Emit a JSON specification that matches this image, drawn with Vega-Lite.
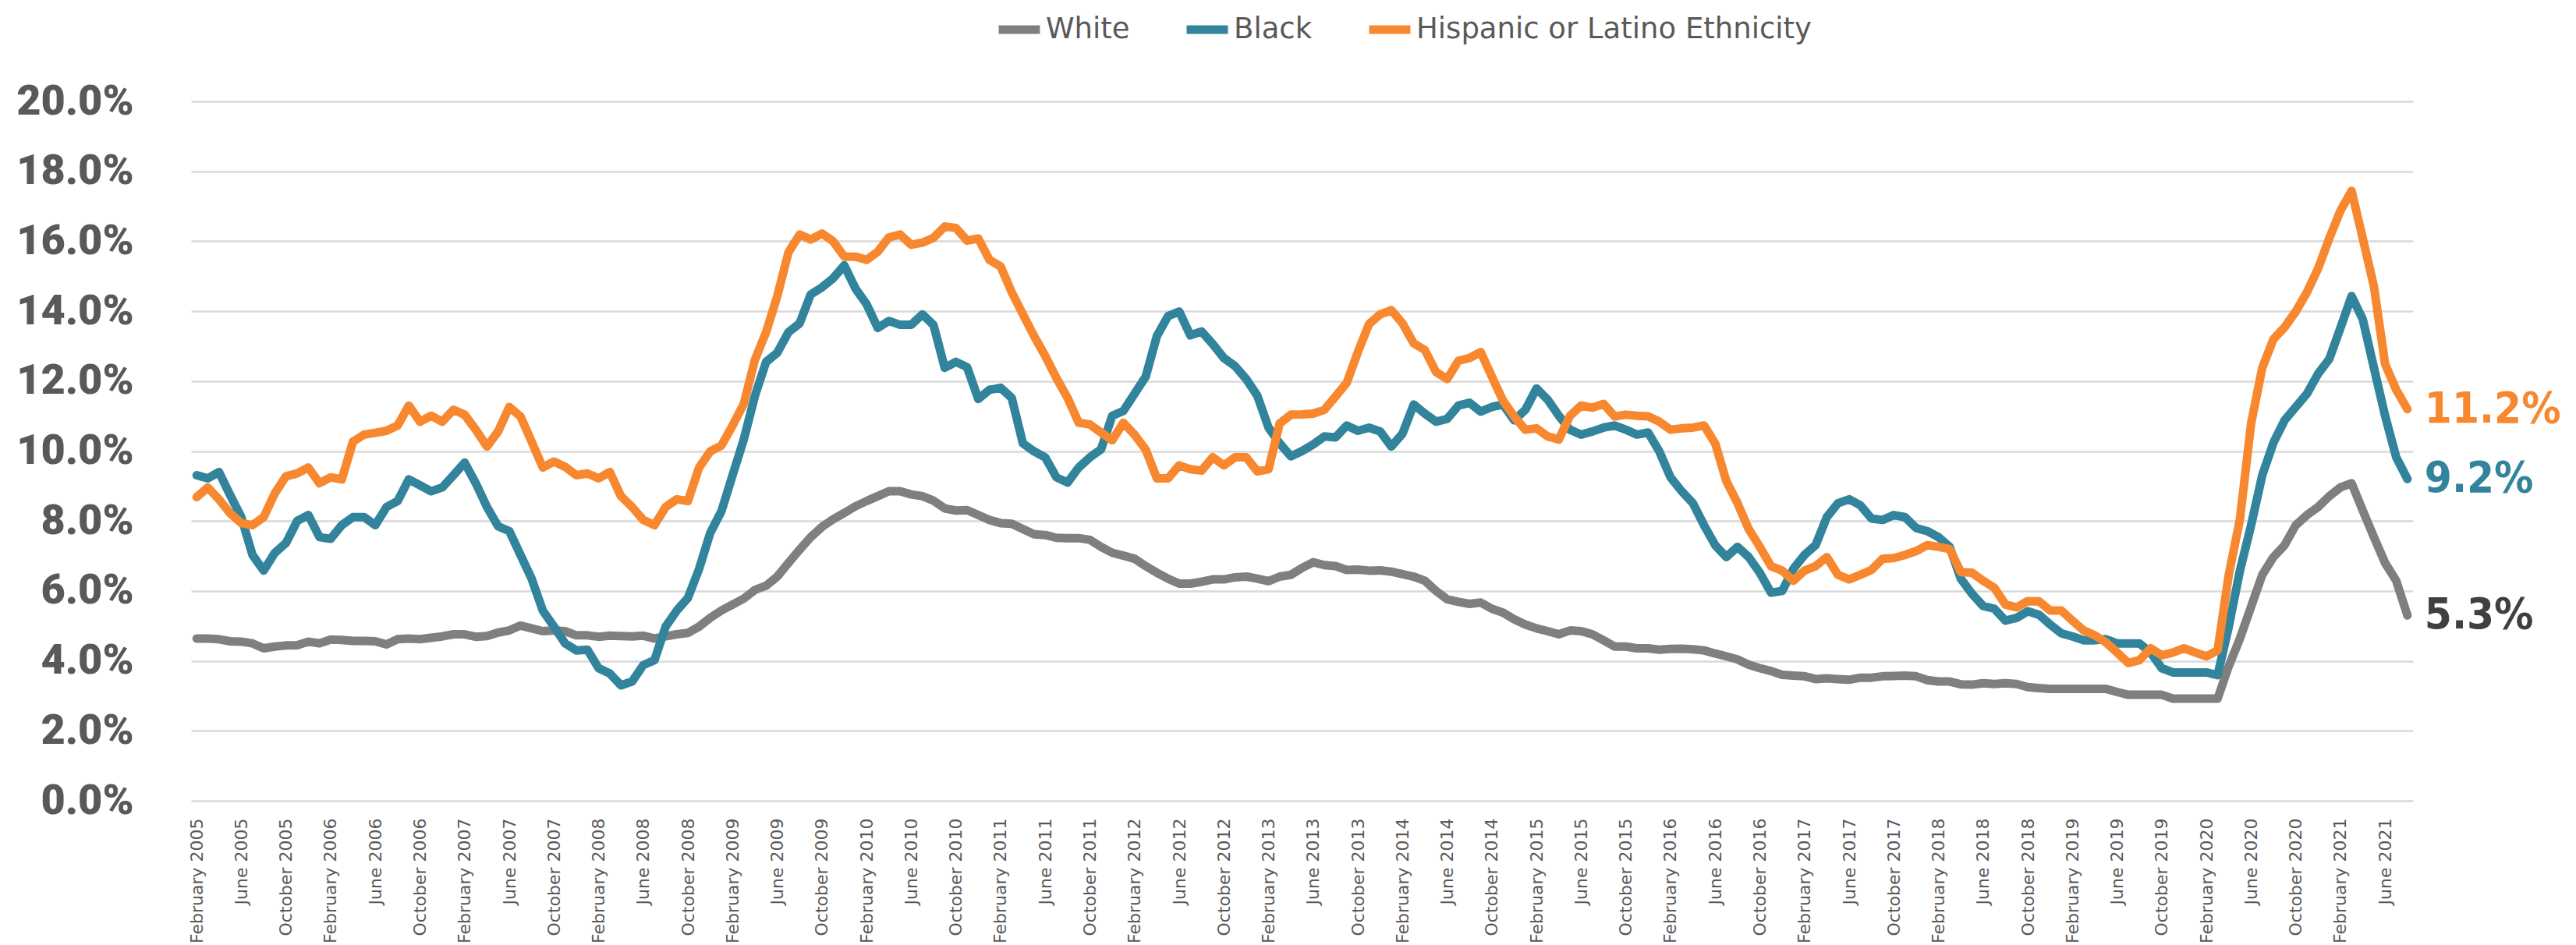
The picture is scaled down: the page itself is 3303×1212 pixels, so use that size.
{
"$schema": "https://vega.github.io/schema/vega-lite/v6.json",
"width": 2849, "height": 897,
"autosize": {"type": "none"},
"padding": {"left": 245, "top": 130, "right": 209, "bottom": 185},
"background": "white",
"config": {"view": {"stroke": null}},
"data": {"values": [
{"month":"February 2005","White":0.0464,"Black":0.0931,"Hispanic":0.0868},
{"month":"March 2005","White":0.0464,"Black":0.0922,"Hispanic":0.0896},
{"month":"April 2005","White":0.0462,"Black":0.0940,"Hispanic":0.0862},
{"month":"May 2005","White":0.0456,"Black":0.0874,"Hispanic":0.0822},
{"month":"June 2005","White":0.0455,"Black":0.0811,"Hispanic":0.0794},
{"month":"July 2005","White":0.0450,"Black":0.0703,"Hispanic":0.0788},
{"month":"August 2005","White":0.0436,"Black":0.0658,"Hispanic":0.0811},
{"month":"September 2005","White":0.0441,"Black":0.0709,"Hispanic":0.0879},
{"month":"October 2005","White":0.0444,"Black":0.0737,"Hispanic":0.0928},
{"month":"November 2005","White":0.0445,"Black":0.0800,"Hispanic":0.0936},
{"month":"December 2005","White":0.0455,"Black":0.0817,"Hispanic":0.0953},
{"month":"January 2006","White":0.0450,"Black":0.0754,"Hispanic":0.0908},
{"month":"February 2006","White":0.0461,"Black":0.0749,"Hispanic":0.0925},
{"month":"March 2006","White":0.0460,"Black":0.0788,"Hispanic":0.0919},
{"month":"April 2006","White":0.0457,"Black":0.0811,"Hispanic":0.1027},
{"month":"May 2006","White":0.0457,"Black":0.0811,"Hispanic":0.1047},
{"month":"June 2006","White":0.0456,"Black":0.0788,"Hispanic":0.1052},
{"month":"July 2006","White":0.0447,"Black":0.0840,"Hispanic":0.1058},
{"month":"August 2006","White":0.0462,"Black":0.0857,"Hispanic":0.1073},
{"month":"September 2006","White":0.0464,"Black":0.0919,"Hispanic":0.1130},
{"month":"October 2006","White":0.0462,"Black":0.0902,"Hispanic":0.1084},
{"month":"November 2006","White":0.0466,"Black":0.0885,"Hispanic":0.1101},
{"month":"December 2006","White":0.0470,"Black":0.0896,"Hispanic":0.1084},
{"month":"January 2007","White":0.0476,"Black":0.0931,"Hispanic":0.1118},
{"month":"February 2007","White":0.0476,"Black":0.0967,"Hispanic":0.1104},
{"month":"March 2007","White":0.0469,"Black":0.0908,"Hispanic":0.1061},
{"month":"April 2007","White":0.0471,"Black":0.0840,"Hispanic":0.1013},
{"month":"May 2007","White":0.0481,"Black":0.0785,"Hispanic":0.1056},
{"month":"June 2007","White":0.0487,"Black":0.0771,"Hispanic":0.1126},
{"month":"July 2007","White":0.0501,"Black":0.0703,"Hispanic":0.1099},
{"month":"August 2007","White":0.0493,"Black":0.0635,"Hispanic":0.1027},
{"month":"September 2007","White":0.0485,"Black":0.0544,"Hispanic":0.0953},
{"month":"October 2007","White":0.0487,"Black":0.0498,"Hispanic":0.0970},
{"month":"November 2007","White":0.0485,"Black":0.0450,"Hispanic":0.0955},
{"month":"December 2007","White":0.0473,"Black":0.0430,"Hispanic":0.0931},
{"month":"January 2008","White":0.0473,"Black":0.0432,"Hispanic":0.0936},
{"month":"February 2008","White":0.0469,"Black":0.0379,"Hispanic":0.0922},
{"month":"March 2008","White":0.0472,"Black":0.0364,"Hispanic":0.0940},
{"month":"April 2008","White":0.0471,"Black":0.0330,"Hispanic":0.0871},
{"month":"May 2008","White":0.0470,"Black":0.0341,"Hispanic":0.0840},
{"month":"June 2008","White":0.0472,"Black":0.0388,"Hispanic":0.0803},
{"month":"July 2008","White":0.0464,"Black":0.0402,"Hispanic":0.0788},
{"month":"August 2008","White":0.0470,"Black":0.0498,"Hispanic":0.0840},
{"month":"September 2008","White":0.0476,"Black":0.0544,"Hispanic":0.0862},
{"month":"October 2008","White":0.0480,"Black":0.0580,"Hispanic":0.0857},
{"month":"November 2008","White":0.0498,"Black":0.0663,"Hispanic":0.0953},
{"month":"December 2008","White":0.0523,"Black":0.0766,"Hispanic":0.0999},
{"month":"January 2009","White":0.0544,"Black":0.0828,"Hispanic":0.1016},
{"month":"February 2009","White":0.0561,"Black":0.0931,"Hispanic":0.1073},
{"month":"March 2009","White":0.0578,"Black":0.1033,"Hispanic":0.1135},
{"month":"April 2009","White":0.0603,"Black":0.1158,"Hispanic":0.1261},
{"month":"May 2009","White":0.0615,"Black":0.1255,"Hispanic":0.1340},
{"month":"June 2009","White":0.0641,"Black":0.1281,"Hispanic":0.1443},
{"month":"July 2009","White":0.0680,"Black":0.1340,"Hispanic":0.1568},
{"month":"August 2009","White":0.0718,"Black":0.1365,"Hispanic":0.1619},
{"month":"September 2009","White":0.0754,"Black":0.1448,"Hispanic":0.1605},
{"month":"October 2009","White":0.0783,"Black":0.1468,"Hispanic":0.1622},
{"month":"November 2009","White":0.0805,"Black":0.1494,"Hispanic":0.1600},
{"month":"December 2009","White":0.0823,"Black":0.1531,"Hispanic":0.1556},
{"month":"January 2010","White":0.0842,"Black":0.1465,"Hispanic":0.1556},
{"month":"February 2010","White":0.0857,"Black":0.1420,"Hispanic":0.1547},
{"month":"March 2010","White":0.0871,"Black":0.1352,"Hispanic":0.1570},
{"month":"April 2010","White":0.0885,"Black":0.1372,"Hispanic":0.1611},
{"month":"May 2010","White":0.0885,"Black":0.1361,"Hispanic":0.1619},
{"month":"June 2010","White":0.0876,"Black":0.1361,"Hispanic":0.1590},
{"month":"July 2010","White":0.0871,"Black":0.1391,"Hispanic":0.1596},
{"month":"August 2010","White":0.0858,"Black":0.1360,"Hispanic":0.1610},
{"month":"September 2010","White":0.0836,"Black":0.1238,"Hispanic":0.1642},
{"month":"October 2010","White":0.0830,"Black":0.1255,"Hispanic":0.1638},
{"month":"November 2010","White":0.0831,"Black":0.1240,"Hispanic":0.1602},
{"month":"December 2010","White":0.0817,"Black":0.1149,"Hispanic":0.1608},
{"month":"January 2011","White":0.0803,"Black":0.1175,"Hispanic":0.1547},
{"month":"February 2011","White":0.0794,"Black":0.1181,"Hispanic":0.1528},
{"month":"March 2011","White":0.0792,"Black":0.1152,"Hispanic":0.1454},
{"month":"April 2011","White":0.0777,"Black":0.1022,"Hispanic":0.1391},
{"month":"May 2011","White":0.0762,"Black":0.0999,"Hispanic":0.1329},
{"month":"June 2011","White":0.0760,"Black":0.0982,"Hispanic":0.1272},
{"month":"July 2011","White":0.0752,"Black":0.0925,"Hispanic":0.1209},
{"month":"August 2011","White":0.0751,"Black":0.0910,"Hispanic":0.1152},
{"month":"September 2011","White":0.0751,"Black":0.0953,"Hispanic":0.1081},
{"month":"October 2011","White":0.0746,"Black":0.0982,"Hispanic":0.1076},
{"month":"November 2011","White":0.0726,"Black":0.1005,"Hispanic":0.1053},
{"month":"December 2011","White":0.0709,"Black":0.1101,"Hispanic":0.1031},
{"month":"January 2012","White":0.0701,"Black":0.1115,"Hispanic":0.1081},
{"month":"February 2012","White":0.0692,"Black":0.1164,"Hispanic":0.1047},
{"month":"March 2012","White":0.0671,"Black":0.1213,"Hispanic":0.1004},
{"month":"April 2012","White":0.0652,"Black":0.1329,"Hispanic":0.0922},
{"month":"May 2012","White":0.0635,"Black":0.1386,"Hispanic":0.0922},
{"month":"June 2012","White":0.0621,"Black":0.1399,"Hispanic":0.0959},
{"month":"July 2012","White":0.0621,"Black":0.1331,"Hispanic":0.0948},
{"month":"August 2012","White":0.0626,"Black":0.1342,"Hispanic":0.0944},
{"month":"September 2012","White":0.0633,"Black":0.1306,"Hispanic":0.0982},
{"month":"October 2012","White":0.0633,"Black":0.1266,"Hispanic":0.0959},
{"month":"November 2012","White":0.0639,"Black":0.1243,"Hispanic":0.0982},
{"month":"December 2012","White":0.0641,"Black":0.1206,"Hispanic":0.0982},
{"month":"January 2013","White":0.0635,"Black":0.1158,"Hispanic":0.0942},
{"month":"February 2013","White":0.0628,"Black":0.1067,"Hispanic":0.0948},
{"month":"March 2013","White":0.0641,"Black":0.1022,"Hispanic":0.1079},
{"month":"April 2013","White":0.0646,"Black":0.0985,"Hispanic":0.1104},
{"month":"May 2013","White":0.0666,"Black":0.1000,"Hispanic":0.1105},
{"month":"June 2013","White":0.0682,"Black":0.1019,"Hispanic":0.1107},
{"month":"July 2013","White":0.0674,"Black":0.1042,"Hispanic":0.1118},
{"month":"August 2013","White":0.0671,"Black":0.1039,"Hispanic":0.1156},
{"month":"September 2013","White":0.0660,"Black":0.1073,"Hispanic":0.1195},
{"month":"October 2013","White":0.0661,"Black":0.1058,"Hispanic":0.1283},
{"month":"November 2013","White":0.0658,"Black":0.1067,"Hispanic":0.1363},
{"month":"December 2013","White":0.0659,"Black":0.1056,"Hispanic":0.1391},
{"month":"January 2014","White":0.0655,"Black":0.1013,"Hispanic":0.1403},
{"month":"February 2014","White":0.0648,"Black":0.1050,"Hispanic":0.1365},
{"month":"March 2014","White":0.0641,"Black":0.1133,"Hispanic":0.1308},
{"month":"April 2014","White":0.0629,"Black":0.1107,"Hispanic":0.1289},
{"month":"May 2014","White":0.0600,"Black":0.1084,"Hispanic":0.1226},
{"month":"June 2014","White":0.0576,"Black":0.1092,"Hispanic":0.1206},
{"month":"July 2014","White":0.0569,"Black":0.1130,"Hispanic":0.1258},
{"month":"August 2014","White":0.0563,"Black":0.1138,"Hispanic":0.1266},
{"month":"September 2014","White":0.0567,"Black":0.1113,"Hispanic":0.1283},
{"month":"October 2014","White":0.0549,"Black":0.1126,"Hispanic":0.1213},
{"month":"November 2014","White":0.0538,"Black":0.1133,"Hispanic":0.1144},
{"month":"December 2014","White":0.0519,"Black":0.1088,"Hispanic":0.1099},
{"month":"January 2015","White":0.0504,"Black":0.1118,"Hispanic":0.1061},
{"month":"February 2015","White":0.0493,"Black":0.1179,"Hispanic":0.1065},
{"month":"March 2015","White":0.0485,"Black":0.1147,"Hispanic":0.1042},
{"month":"April 2015","White":0.0476,"Black":0.1101,"Hispanic":0.1033},
{"month":"May 2015","White":0.0487,"Black":0.1061,"Hispanic":0.1101},
{"month":"June 2015","White":0.0485,"Black":0.1047,"Hispanic":0.1130},
{"month":"July 2015","White":0.0476,"Black":0.1056,"Hispanic":0.1124},
{"month":"August 2015","White":0.0459,"Black":0.1067,"Hispanic":0.1135},
{"month":"September 2015","White":0.0441,"Black":0.1073,"Hispanic":0.1099},
{"month":"October 2015","White":0.0441,"Black":0.1061,"Hispanic":0.1104},
{"month":"November 2015","White":0.0436,"Black":0.1047,"Hispanic":0.1101},
{"month":"December 2015","White":0.0436,"Black":0.1053,"Hispanic":0.1099},
{"month":"January 2016","White":0.0432,"Black":0.0999,"Hispanic":0.1084},
{"month":"February 2016","White":0.0434,"Black":0.0925,"Hispanic":0.1061},
{"month":"March 2016","White":0.0435,"Black":0.0885,"Hispanic":0.1065},
{"month":"April 2016","White":0.0433,"Black":0.0851,"Hispanic":0.1067},
{"month":"May 2016","White":0.0430,"Black":0.0788,"Hispanic":0.1073},
{"month":"June 2016","White":0.0421,"Black":0.0731,"Hispanic":0.1022},
{"month":"July 2016","White":0.0413,"Black":0.0697,"Hispanic":0.0914},
{"month":"August 2016","White":0.0404,"Black":0.0726,"Hispanic":0.0851},
{"month":"September 2016","White":0.0389,"Black":0.0697,"Hispanic":0.0777},
{"month":"October 2016","White":0.0379,"Black":0.0652,"Hispanic":0.0726},
{"month":"November 2016","White":0.0371,"Black":0.0595,"Hispanic":0.0671},
{"month":"December 2016","White":0.0360,"Black":0.0600,"Hispanic":0.0658},
{"month":"January 2017","White":0.0358,"Black":0.0663,"Hispanic":0.0629},
{"month":"February 2017","White":0.0356,"Black":0.0703,"Hispanic":0.0658},
{"month":"March 2017","White":0.0348,"Black":0.0731,"Hispanic":0.0671},
{"month":"April 2017","White":0.0350,"Black":0.0811,"Hispanic":0.0697},
{"month":"May 2017","White":0.0348,"Black":0.0851,"Hispanic":0.0646},
{"month":"June 2017","White":0.0346,"Black":0.0862,"Hispanic":0.0633},
{"month":"July 2017","White":0.0352,"Black":0.0845,"Hispanic":0.0646},
{"month":"August 2017","White":0.0352,"Black":0.0807,"Hispanic":0.0660},
{"month":"September 2017","White":0.0356,"Black":0.0803,"Hispanic":0.0692},
{"month":"October 2017","White":0.0357,"Black":0.0817,"Hispanic":0.0694},
{"month":"November 2017","White":0.0358,"Black":0.0811,"Hispanic":0.0703},
{"month":"December 2017","White":0.0356,"Black":0.0780,"Hispanic":0.0714},
{"month":"January 2018","White":0.0345,"Black":0.0771,"Hispanic":0.0731},
{"month":"February 2018","White":0.0341,"Black":0.0754,"Hispanic":0.0726},
{"month":"March 2018","White":0.0341,"Black":0.0726,"Hispanic":0.0720},
{"month":"April 2018","White":0.0333,"Black":0.0635,"Hispanic":0.0654},
{"month":"May 2018","White":0.0332,"Black":0.0592,"Hispanic":0.0652},
{"month":"June 2018","White":0.0336,"Black":0.0557,"Hispanic":0.0629},
{"month":"July 2018","White":0.0334,"Black":0.0549,"Hispanic":0.0609},
{"month":"August 2018","White":0.0336,"Black":0.0515,"Hispanic":0.0561},
{"month":"September 2018","White":0.0334,"Black":0.0523,"Hispanic":0.0553},
{"month":"October 2018","White":0.0325,"Black":0.0542,"Hispanic":0.0571},
{"month":"November 2018","White":0.0322,"Black":0.0532,"Hispanic":0.0570},
{"month":"December 2018","White":0.0320,"Black":0.0504,"Hispanic":0.0544},
{"month":"January 2019","White":0.0320,"Black":0.0479,"Hispanic":0.0544},
{"month":"February 2019","White":0.0320,"Black":0.0470,"Hispanic":0.0515},
{"month":"March 2019","White":0.0320,"Black":0.0459,"Hispanic":0.0487},
{"month":"April 2019","White":0.0320,"Black":0.0459,"Hispanic":0.0473},
{"month":"May 2019","White":0.0320,"Black":0.0462,"Hispanic":0.0453},
{"month":"June 2019","White":0.0311,"Black":0.0450,"Hispanic":0.0424},
{"month":"July 2019","White":0.0303,"Black":0.0450,"Hispanic":0.0394},
{"month":"August 2019","White":0.0303,"Black":0.0450,"Hispanic":0.0402},
{"month":"September 2019","White":0.0303,"Black":0.0424,"Hispanic":0.0436},
{"month":"October 2019","White":0.0303,"Black":0.0379,"Hispanic":0.0416},
{"month":"November 2019","White":0.0292,"Black":0.0367,"Hispanic":0.0424},
{"month":"December 2019","White":0.0292,"Black":0.0367,"Hispanic":0.0436},
{"month":"January 2020","White":0.0292,"Black":0.0367,"Hispanic":0.0424},
{"month":"February 2020","White":0.0292,"Black":0.0367,"Hispanic":0.0413},
{"month":"March 2020","White":0.0292,"Black":0.0359,"Hispanic":0.0430},
{"month":"April 2020","White":0.0385,"Black":0.0498,"Hispanic":0.0646},
{"month":"May 2020","White":0.0464,"Black":0.0658,"Hispanic":0.0805},
{"month":"June 2020","White":0.0555,"Black":0.0788,"Hispanic":0.1079},
{"month":"July 2020","White":0.0646,"Black":0.0931,"Hispanic":0.1238},
{"month":"August 2020","White":0.0697,"Black":0.1024,"Hispanic":0.1320},
{"month":"September 2020","White":0.0731,"Black":0.1088,"Hispanic":0.1354},
{"month":"October 2020","White":0.0788,"Black":0.1126,"Hispanic":0.1399},
{"month":"November 2020","White":0.0817,"Black":0.1164,"Hispanic":0.1454},
{"month":"December 2020","White":0.0840,"Black":0.1221,"Hispanic":0.1522},
{"month":"January 2021","White":0.0871,"Black":0.1263,"Hispanic":0.1608},
{"month":"February 2021","White":0.0896,"Black":0.1352,"Hispanic":0.1687},
{"month":"March 2021","White":0.0908,"Black":0.1443,"Hispanic":0.1744},
{"month":"April 2021","White":0.0830,"Black":0.1377,"Hispanic":0.1608},
{"month":"May 2021","White":0.0754,"Black":0.1238,"Hispanic":0.1471},
{"month":"June 2021","White":0.0680,"Black":0.1101,"Hispanic":0.1249},
{"month":"July 2021","White":0.0629,"Black":0.0982,"Hispanic":0.1175},
{"month":"August 2021","White":0.0530,"Black":0.0920,"Hispanic":0.1120}
]},
"transform": [{"fold": ["White", "Black", "Hispanic"], "as": ["series", "rate"]}],
"encoding": {
  "x": {"field": "month", "type": "ordinal", "sort": null,
    "scale": {"type": "point", "padding": 0.5},
    "axis": {"title": null, "domain": false, "ticks": false, "grid": false, "labelAngle": -90,
      "labelFont": "DejaVu Sans", "labelFontSize": 22, "labelColor": "#595959", "labelPadding": 22,
      "labelOverlap": false, "labelBound": false,
      "values": ["February 2005","June 2005","October 2005","February 2006","June 2006","October 2006","February 2007","June 2007","October 2007","February 2008","June 2008","October 2008","February 2009","June 2009","October 2009","February 2010","June 2010","October 2010","February 2011","June 2011","October 2011","February 2012","June 2012","October 2012","February 2013","June 2013","October 2013","February 2014","June 2014","October 2014","February 2015","June 2015","October 2015","February 2016","June 2016","October 2016","February 2017","June 2017","October 2017","February 2018","June 2018","October 2018","February 2019","June 2019","October 2019","February 2020","June 2020","October 2020","February 2021","June 2021"]}},
  "y": {"field": "rate", "type": "quantitative",
    "scale": {"domain": [0, 0.2], "nice": false},
    "axis": {"title": null, "domain": false, "ticks": false, "grid": true, "gridColor": "#D9D9D9", "gridWidth": 2.5,
      "values": [0, 0.02, 0.04, 0.06, 0.08, 0.1, 0.12, 0.14, 0.16, 0.18, 0.2], "format": ".1%",
      "labelFont": "Roboto", "labelFontWeight": 900, "labelFontSize": 54, "labelColor": "#595959", "labelPadding": 74}}
},
"layer": [
  {"mark": {"type": "line", "strokeWidth": 11, "strokeCap": "round", "strokeJoin": "round"},
   "encoding": {"color": {"field": "series", "type": "nominal",
     "scale": {"domain": ["White", "Black", "Hispanic"], "range": ["#7F7F7F", "#31849B", "#F7882F"]},
     "legend": {"orient": "none", "legendX": 1030, "legendY": -124, "direction": "horizontal", "title": null,
       "padding": 0, "symbolType": "stroke", "symbolSize": 2800, "symbolStrokeWidth": 11,
       "labelFont": "DejaVu Sans", "labelFontSize": 37, "labelColor": "#595959", "labelOffset": 2,
       "labelLimit": 1000, "columnPadding": 50,
       "labelExpr": "datum.label == 'Hispanic' ? 'Hispanic or Latino Ethnicity' : datum.label"}}}},
  {"transform": [{"filter": "datum.month == 'August 2021'"}],
   "mark": {"type": "text", "align": "left", "baseline": "middle", "dx": 22,
     "font": "'DejaVu Sans Condensed', 'DejaVu Sans', sans-serif", "fontSize": 56, "fontWeight": "bold"},
   "encoding": {"text": {"field": "rate", "type": "quantitative", "format": ".1%"},
     "color": {"field": "series", "type": "nominal",
       "scale": {"domain": ["White", "Black", "Hispanic"], "range": ["#404040", "#31849B", "#F7882F"]},
       "legend": null}}}
],
"resolve": {"scale": {"color": "independent"}}
}
